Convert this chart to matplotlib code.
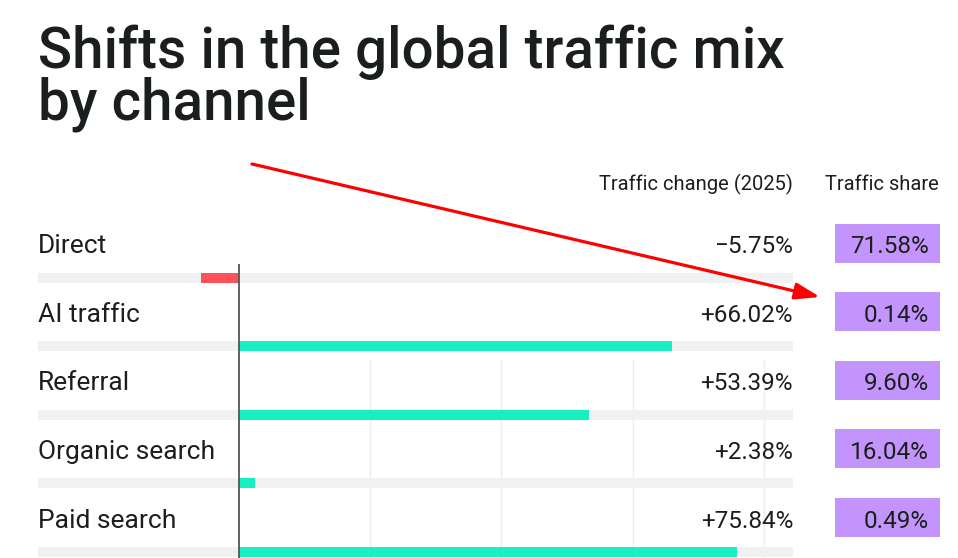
import numpy as np
import matplotlib.pyplot as plt

# Data
CHANNELS = ["Direct", "AI traffic", "Referral", "Organic search", "Paid search"]
CHANGE_2025 = [-5.75, 66.02, 53.39, 2.38, 75.84]
TRAFFIC_SHARE = [71.58, 0.14, 9.60, 16.04, 0.49]

TITLE_LINES = ["Shifts in the global traffic mix", "by channel"]
HEAD_CHANGE = "Traffic change (2025)"
HEAD_SHARE = "Traffic share"

# Layout (pixels of a 958x558 canvas)
W, H = 958, 558
ZERO_PX = 239
PX_PER_PCT = 6.56
ROW0_PX = 278
ROW_STEP = 68.5

TEXT_COL = "#1b1f1b"
NEG_COL = "#ff5258"
POS_COL = "#19f0c2"
TRACK_COL = "#f0f1f3"
BOX_COL = "#c294fc"
GRID_COL = "#eeeeee"

plt.rcParams['font.family'] = ['Roboto', 'DejaVu Sans']


def px_x(px):
    return (px - ZERO_PX) / PX_PER_PCT


def px_y(px):
    return (px - ROW0_PX) / ROW_STEP


def main():
    fig = plt.figure(figsize=(W / 100, H / 100), dpi=100)
    ax = fig.add_axes([0, 0, 1, 1])
    ax.set_xlim(px_x(0), px_x(W))
    ax.set_ylim(px_y(H), px_y(0))
    ax.axis("off")

    rows = np.arange(len(CHANNELS))
    bar_h = 10 / ROW_STEP
    track_l, track_r = px_x(38), px_x(793)

    # grid lines and gray tracks
    ax.vlines([20, 40, 60, 80], px_y(359), px_y(H), color=GRID_COL, lw=1, zorder=0)
    ax.barh(rows, track_r - track_l, left=track_l, height=bar_h, color=TRACK_COL, zorder=1)

    # change bars
    colors = [NEG_COL if v < 0 else POS_COL for v in CHANGE_2025]
    ax.barh(rows, CHANGE_2025, height=bar_h, color=colors, zorder=2)
    ax.vlines(0, px_y(264), px_y(H), color="#555555", lw=1.3, zorder=3)

    # share boxes
    box_l, box_r = px_x(835), px_x(940)
    ax.barh(rows - 34.5 / ROW_STEP, box_r - box_l, left=box_l, height=39 / ROW_STEP,
            color=BOX_COL, zorder=2)

    base_off = -24.5 / ROW_STEP
    for i, name in enumerate(CHANNELS):
        y = rows[i] + base_off
        ax.text(track_l, y, name, ha="left", va="baseline", fontsize=19, color=TEXT_COL)
        v = CHANGE_2025[i]
        txt = f"+{v:.2f}%" if v >= 0 else f"\u2212{abs(v):.2f}%"
        ax.text(track_r, y, txt, ha="right", va="baseline", fontsize=17.5, color=TEXT_COL)
        ax.text(px_x(929), y, f"{TRAFFIC_SHARE[i]:.2f}%", ha="right", va="baseline",
                fontsize=17.5, color=TEXT_COL, zorder=4)

    # column headers
    ax.text(track_r, px_y(190), HEAD_CHANGE, ha="right", va="baseline", fontsize=14.5, color=TEXT_COL)
    ax.text(px_x(939), px_y(190), HEAD_SHARE, ha="right", va="baseline", fontsize=14.5, color=TEXT_COL)

    # title
    fig.text(38 / W, 1 - 68 / H, TITLE_LINES[0], ha="left", va="baseline",
             fontsize=40.7, fontweight="medium", color=TEXT_COL)
    fig.text(38 / W, 1 - 120 / H, TITLE_LINES[1], ha="left", va="baseline",
             fontsize=40.7, fontweight="medium", color=TEXT_COL)

    # red arrow
    ax.annotate("", xy=(px_x(820), px_y(297)), xytext=(px_x(252), px_y(164)),
                arrowprops=dict(arrowstyle="-|>,head_length=0.75,head_width=0.25",
                                mutation_scale=20, color="#ff0000", lw=2.3,
                                shrinkA=0, shrinkB=0), zorder=5)

    fig.savefig("out.png", dpi=100)
    plt.close(fig)


if __name__ == "__main__":
    main()
